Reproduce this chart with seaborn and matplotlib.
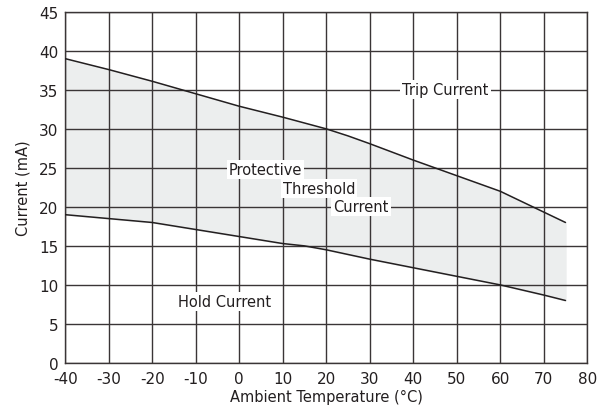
import matplotlib
matplotlib.use("Agg")
import matplotlib.pyplot as plt
import seaborn as sns
import pandas as pd
import numpy as np

# Curvas
temp_trip = [-40, -30, -20, -10, 0, 10, 20, 25, 30, 40, 50, 60, 75]
corriente_trip = [39.0, 37.6, 36.1, 34.5, 32.9, 31.5, 30.0, 29.1, 28.1, 26.0, 24.0, 22.0, 18.0]

temp_hold = [-40, -30, -20, -10, 0, 10, 15, 20, 30, 40, 50, 60, 70, 75]
corriente_hold = [19.0, 18.5, 18.0, 17.1, 16.2, 15.3, 15.0, 14.5, 13.3, 12.2, 11.1, 10.0, 8.7, 8.0]

xticks = list(range(-40, 90, 10))
yticks = list(range(0, 50, 5))

color_texto = "#231f20"
color_linea = "#231f20"
color_relleno = "#eceeee"

df_trip = pd.DataFrame({"temp": temp_trip, "corriente": corriente_trip})
df_hold = pd.DataFrame({"temp": temp_hold, "corriente": corriente_hold})

sns.set_theme(style="white")
plt.rcParams["font.family"] = ["DejaVu Sans"]
plt.rcParams["axes.unicode_minus"] = False

fig, ax = plt.subplots(figsize=(5.98, 4.14), dpi=100)
fig.subplots_adjust(left=0.109, right=0.982, top=0.969, bottom=0.121)

# zona sombreada entre las dos curvas
todas = sorted(set(temp_trip) | set(temp_hold))
sup = np.interp(todas, temp_trip, corriente_trip)
inf = np.interp(todas, temp_hold, corriente_hold)
ax.fill_between(todas, inf, sup, color=color_relleno, zorder=0)

sns.lineplot(data=df_trip, x="temp", y="corriente", ax=ax, color=color_linea, linewidth=1.1, zorder=3)
sns.lineplot(data=df_hold, x="temp", y="corriente", ax=ax, color=color_linea, linewidth=1.1, zorder=3)

ax.set_xlim(-40, 80)
ax.set_ylim(0, 45)
ax.set_xticks(xticks)
ax.set_yticks(yticks)
ax.grid(True, color="#3a3536", linewidth=1.0, zorder=1)
ax.set_axisbelow(False)
for s in ax.spines.values():
    s.set_color("#3a3536")
    s.set_linewidth(1.0)
ax.tick_params(axis="both", labelsize=11, colors=color_texto, length=0)
ax.tick_params(axis="y", pad=5)
ax.tick_params(axis="x", pad=6)
ax.set_xlabel("Ambient Temperature (°C)", fontsize=10.5, color=color_texto, labelpad=2)
ax.set_ylabel("Current (mA)", fontsize=10.5, color=color_texto, labelpad=6)

caja = dict(facecolor="white", edgecolor="none", pad=1.5)
etiquetas = [
    ("Trip Current", 47.4, 35.0),
    ("Protective", 6.0, 24.8),
    ("Threshold", 18.3, 22.4),
    ("Current", 28.0, 20.0),
    ("Hold Current", -3.4, 7.9),
]
for texto, x, y in etiquetas:
    ax.text(x, y, texto, ha="center", va="center", fontsize=10.5,
            color=color_texto, bbox=caja, zorder=4)

fig.savefig("out.png", dpi=100)
